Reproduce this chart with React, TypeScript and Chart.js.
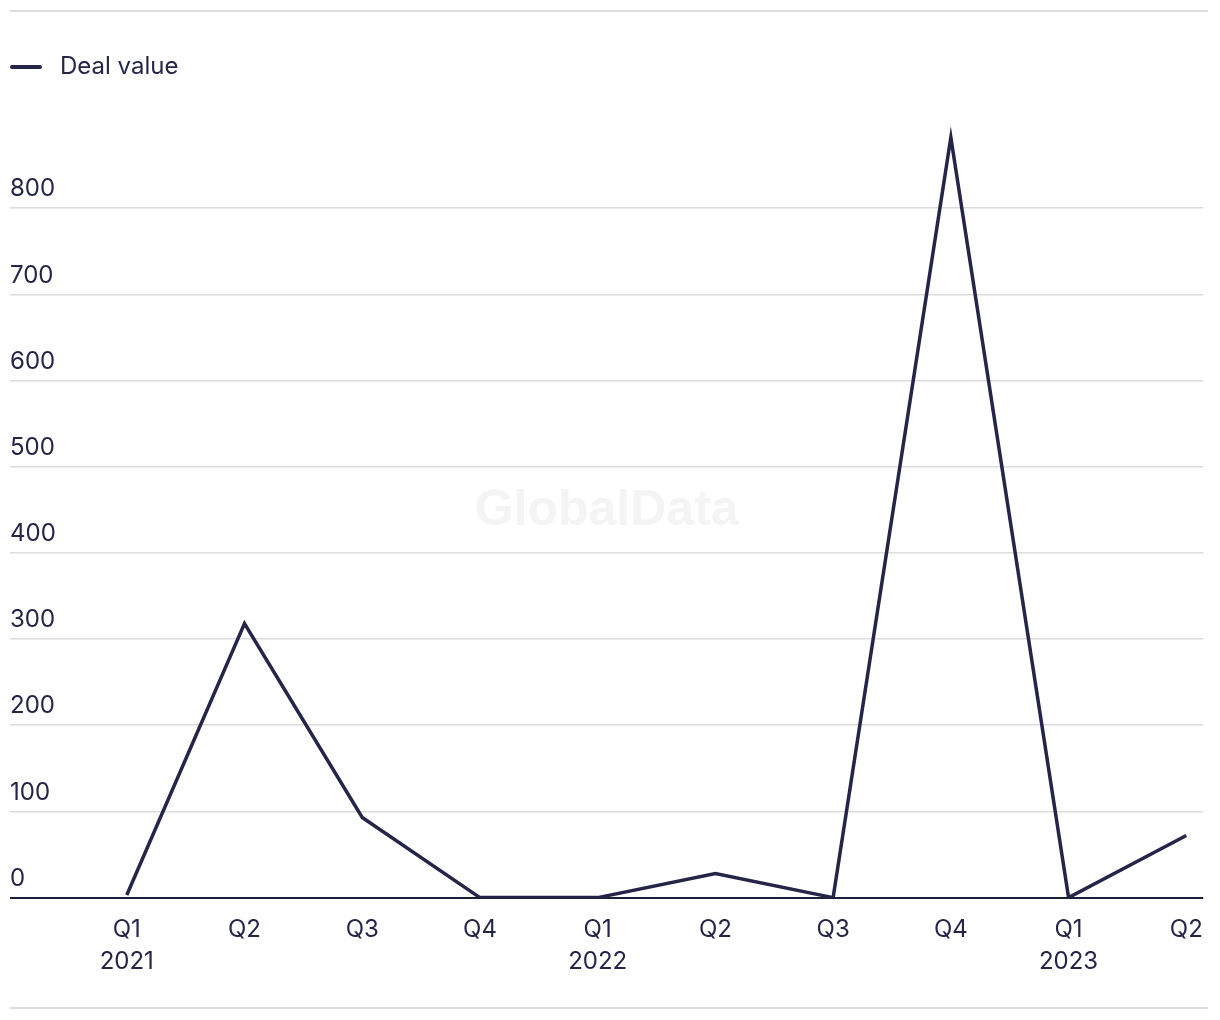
import React, { useEffect, useRef } from "react";
import { Chart, registerables } from "chart.js";

Chart.register(...registerables);

// ---- data ----
const categories: string[][] = [
  ["Q1", "2021"],
  ["Q2"],
  ["Q3"],
  ["Q4"],
  ["Q1", "2022"],
  ["Q2"],
  ["Q3"],
  ["Q4"],
  ["Q1", "2023"],
  ["Q2"],
];
const dealValues: number[] = [3, 318, 93, 0, 0, 28, 0, 882, 0, 72];
const yTickValues: number[] = [0, 100, 200, 300, 400, 500, 600, 700, 800];
const seriesLabel = "Deal value";
const watermark = "GlobalData";

const INK = "#25254a";
const GRID = "#dcdcdc";
const FONT = "Inter";

export default function App() {
  const canvasRef = useRef<HTMLCanvasElement | null>(null);

  useEffect(() => {
    const canvas = canvasRef.current;
    if (!canvas) return;

    const legendSpacer = {
      id: "legendSpacer",
      beforeInit(chart: any) {
        const legend = chart.legend;
        if (!legend) return;
        const orig = legend.fit;
        legend.fit = function () {
          orig.call(this);
          this.height += 33;
        };
      },
    };

    const decorations = {
      id: "decorations",
      beforeDatasetsDraw(chart: any) {
        const ctx = chart.ctx;
        const area = chart.chartArea;
        ctx.save();
        ctx.font = `bold 50px "Liberation Sans"`;
        ctx.fillStyle = "#f4f4f4";
        ctx.textAlign = "center";
        ctx.textBaseline = "middle";
        ctx.fillText(watermark, (area.left + area.right) / 2, 511);
        ctx.restore();
      },
      afterDraw(chart: any) {
        const ctx = chart.ctx;
        ctx.save();
        ctx.strokeStyle = GRID;
        ctx.lineWidth = 2;
        ctx.beginPath();
        ctx.moveTo(10, 11);
        ctx.lineTo(1208, 11);
        ctx.moveTo(10, 1008);
        ctx.lineTo(1208, 1008);
        ctx.stroke();
        ctx.restore();
      },
    };

    const chart = new Chart(canvas, {
      type: "line",
      data: {
        datasets: [
          {
            label: seriesLabel,
            data: dealValues.map((v, i) => ({ x: i, y: v })),
            borderColor: INK,
            backgroundColor: INK,
            borderWidth: 3.5,
            pointRadius: 0,
            tension: 0,
          },
        ],
      },
      options: {
        responsive: false,
        animation: false,
        layout: { autoPadding: false, padding: { left: 10, right: 15, top: 55, bottom: 26 } },
        plugins: {
          tooltip: { enabled: false },
          legend: {
            display: true,
            position: "top",
            align: "start",
            labels: {
              padding: 0,
              boxWidth: 32,
              boxHeight: 4,
              color: INK,
              font: { family: FONT, size: 24 },
              generateLabels: (chart: any) =>
                chart.data.datasets.map((ds: any, i: number) => ({
                  text: "\u2005" + ds.label,
                  fillStyle: INK,
                  strokeStyle: INK,
                  lineWidth: 0,
                  borderRadius: 2,
                  fontColor: INK,
                  datasetIndex: i,
                  hidden: false,
                })),
            },
          },
        },
        scales: {
          x: {
            type: "linear",
            min: -0.992,
            max: 9.144,
            afterBuildTicks: (scale: any) => {
              scale.ticks = categories.map((_, i) => ({ value: i }));
            },
            grid: { display: false, drawTicks: false },
            border: { display: false },
            ticks: {
              autoSkip: false,
              maxRotation: 0,
              padding: 17,
              color: INK,
              font: { family: FONT, size: 24, lineHeight: 1.3 },
              callback: (value: any) => categories[Math.round(Number(value))] ?? "",
            },
          },
          y: {
            type: "linear",
            min: 0,
            max: 900,
            afterBuildTicks: (scale: any) => {
              scale.ticks = yTickValues.map((v) => ({ value: v }));
            },
            grid: {
              drawTicks: false,
              color: (c: any) => (c.tick && c.tick.value === 0 ? "#1e1e38" : GRID),
              lineWidth: (c: any) => (c.tick && c.tick.value === 0 ? 2 : 1.5),
            },
            border: { display: false },
            ticks: {
              mirror: true,
              padding: 0,
              labelOffset: -19,
              color: INK,
              font: { family: FONT, size: 24 },
              callback: (value: any) => String(value),
            },
          },
        },
      },
      plugins: [legendSpacer, decorations],
    } as any);

    return () => chart.destroy();
  }, []);

  return (
    <div style={{ position: "absolute", left: 0, top: 0, width: 1220, height: 1020, background: "#fff" }}>
      <canvas ref={canvasRef} width={1220} height={1020} />
    </div>
  );
}
